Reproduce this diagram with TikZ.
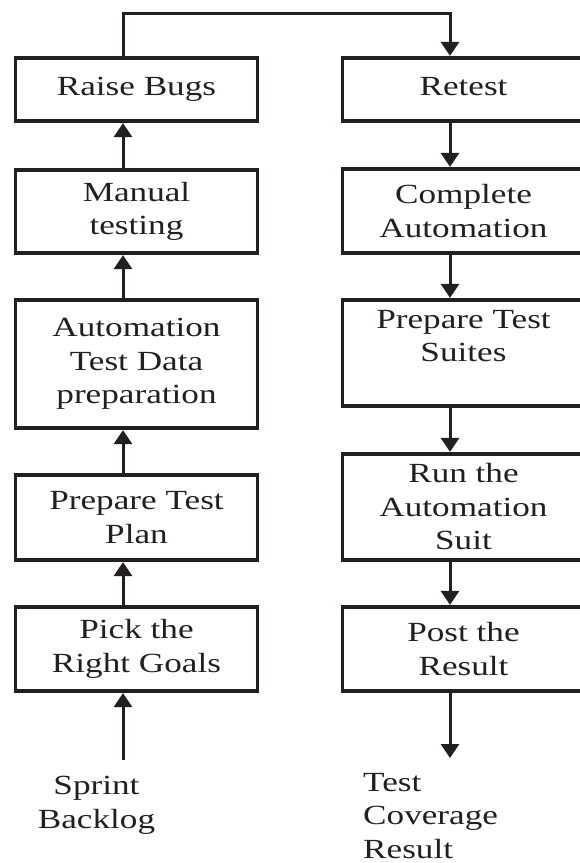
\documentclass[tikz,border=0pt]{standalone}
\usepackage{fontspec}
\setmainfont{Liberation Serif}[FakeStretch=1.27]
\usetikzlibrary{arrows.meta}
\definecolor{ink}{RGB}{35,31,32}
\begin{document}
\begin{tikzpicture}[x=1pt,y=-1pt,
  txt/.style={text=ink, font=\fontsize{27.7}{33.5}\selectfont},
  box/.style={txt, draw=ink, line width=2.7pt, minimum width=242.4pt,
    inner sep=0pt, outer sep=0pt, align=center},
  hedge/.style={draw=ink, line width=4.4pt, shorten <=-1.35pt, shorten >=-1.35pt},
  conn/.style={draw=ink, line width=3pt},
  arr/.style={conn, -{Triangle[width=18pt,length=14pt]}, shorten >=2.2pt},
  lbl/.style={txt, inner sep=0pt}]
\useasboundingbox[fill=white] (0,0) rectangle (580,863);
% left column
\node[box, minimum height=62.8pt]  (L1) at (136.5,89.5)  {Raise Bugs};
\node[box, minimum height=82.8pt]  (L2) at (136.5,211.5) {Manual\\testing};
\node[box, minimum height=127.8pt] (L3) at (136.5,364)   {Automation\\Test Data\\preparation};
\node[box, minimum height=84.8pt]  (L4) at (136.5,517.5) {Prepare Test\\Plan};
\node[box, minimum height=83.8pt]  (L5) at (136.5,649)   {Pick the\\Right Goals};
% right column
\node[box, minimum height=62.8pt]  (R1) at (463.5,89.5)  {Retest\vphantom{g}};
\node[box, minimum height=83.8pt]  (R2) at (463.5,211)   {Complete\\Automation};
\node[box, minimum height=105.8pt] (R3) at (463.5,353)   {Prepare Test\\Suites\\\phantom{S}};
\node[box, minimum height=105.8pt] (R4) at (463.5,507)   {Run the\\Automation\\Suit};
\node[box, minimum height=83.8pt]  (R5) at (463.5,649)   {Post the\\Result};
\foreach \n in {L1,L2,L3,L4,L5,R1,R2,R3,R4,R5}{
  \draw[hedge] (\n.north west) -- (\n.north east);
  \draw[hedge] (\n.south west) -- (\n.south east);
}
% free labels (base anchor = last line)
\node[lbl, align=center, anchor=base] (sprint) at (96.5,828) {Sprint\\Backlog};
\node[lbl, align=left, anchor=base west] (tcr) at (363,858) {Test\\Coverage\\Result};
% connectors left (upwards)
\coordinate (sb) at (123,760);
\draw[arr] (sb) -- ([xshift=-13.5pt]L5.south);
\draw[arr] ([xshift=-13.5pt]L5.north) -- ([xshift=-13.5pt]L4.south);
\draw[arr] ([xshift=-13.5pt]L4.north) -- ([xshift=-13.5pt]L3.south);
\draw[arr] ([xshift=-13.5pt]L3.north) -- ([xshift=-13.5pt]L2.south);
\draw[arr] ([xshift=-13.5pt]L2.north) -- ([xshift=-13.5pt]L1.south);
% top link
\coordinate (topy) at (0,13.5);
\draw[arr] ([xshift=-13.5pt]L1.north) -- ([xshift=-13.5pt]L1.north |- topy)
  -- ([xshift=-13.5pt]R1.north |- topy) -- ([xshift=-13.5pt]R1.north);
% connectors right (downwards)
\draw[arr] ([xshift=-13.5pt]R1.south) -- ([xshift=-13.5pt]R2.north);
\draw[arr] ([xshift=-13.5pt]R2.south) -- ([xshift=-13.5pt]R3.north);
\draw[arr] ([xshift=-13.5pt]R3.south) -- ([xshift=-13.5pt]R4.north);
\draw[arr] ([xshift=-13.5pt]R4.south) -- ([xshift=-13.5pt]R5.north);
\coordinate (tc) at (450,758);
\draw[arr, shorten >=0pt] ([xshift=-13.5pt]R5.south) -- (tc);
\end{tikzpicture}
\end{document}
